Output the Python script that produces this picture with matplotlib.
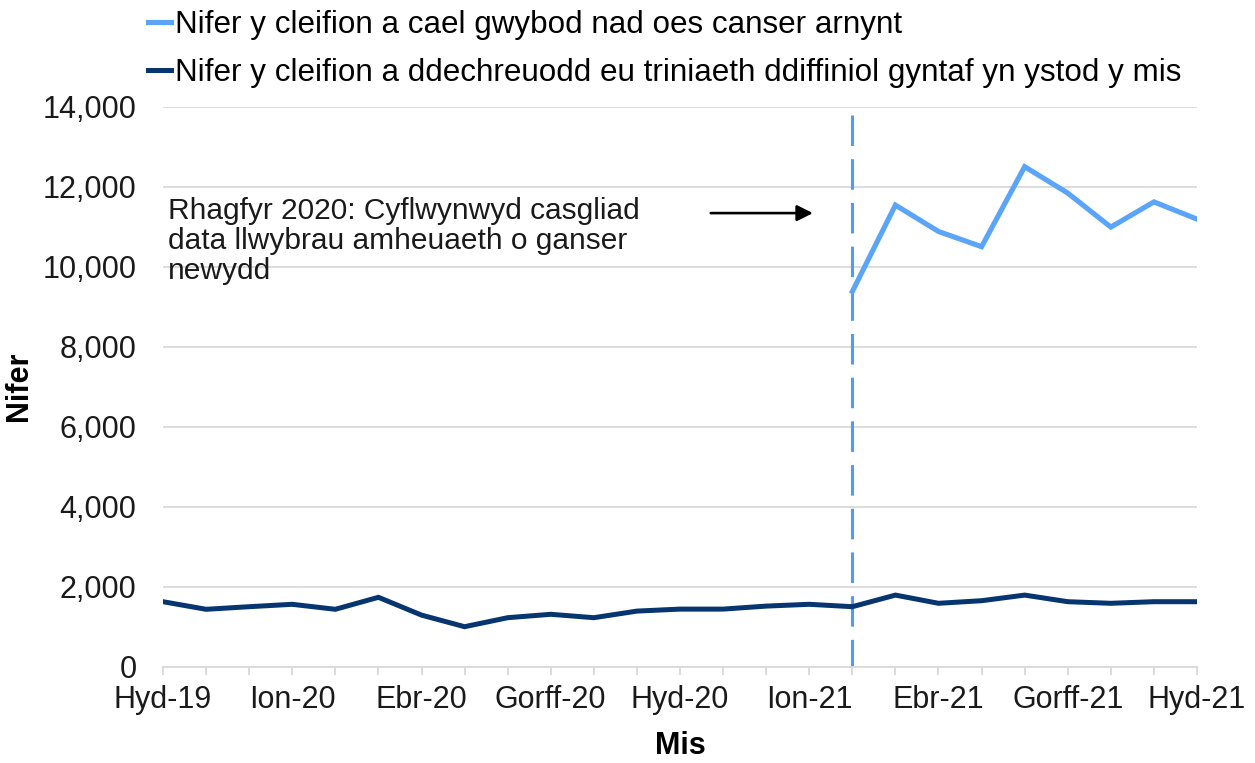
import numpy as np
import matplotlib
matplotlib.use("Agg")
import matplotlib.pyplot as plt

plt.rcParams['font.family'] = ['Liberation Sans', 'DejaVu Sans']

# --- Data ---
months = ['Hyd-19', 'Tach-19', 'Rhag-19', 'Ion-20', 'Chwef-20', 'Maw-20', 'Ebr-20',
          'Mai-20', 'Meh-20', 'Gorff-20', 'Awst-20', 'Medi-20', 'Hyd-20', 'Tach-20',
          'Rhag-20', 'Ion-21', 'Chwef-21', 'Maw-21', 'Ebr-21', 'Mai-21', 'Meh-21',
          'Gorff-21', 'Awst-21', 'Medi-21', 'Hyd-21']

# patients told they do not have cancer (only collected from the later months)
told_no_cancer = [np.nan] * 16 + [9380, 11540, 10880, 10500, 12500, 11840, 10990, 11620, 11190]

# patients starting first definitive treatment
started_treatment = [1625, 1435, 1500, 1560, 1435, 1735, 1290, 1000, 1225, 1310, 1225, 1390,
                     1440, 1440, 1515, 1560, 1500, 1790, 1585, 1650, 1790, 1625, 1585, 1625, 1625]

label_light = 'Nifer y cleifion a cael gwybod nad oes canser arnynt'
label_dark = 'Nifer y cleifion a ddechreuodd eu triniaeth ddiffiniol gyntaf yn ystod y mis'
note_text = 'Rhagfyr 2020: Cyflwynwyd casgliad\ndata llwybrau amheuaeth o ganser\nnewydd'

change_idx = 16        # month where new data collection shows up
change_top = 13790     # dashed line stops just under the top gridline

LIGHT = '#5aa4fa'
DARK = '#063570'
GRID = '#d9d9d9'
FS = 22

fig = plt.figure(figsize=(12.55, 7.63), dpi=100)
ax = fig.add_axes([163 / 1255, 1 - 666.7 / 763, (1197 - 163) / 1255, 560 / 763])

x = np.arange(len(months))
ax.plot(x, told_no_cancer, color=LIGHT, linewidth=3.7, label=label_light,
        solid_joinstyle='miter', zorder=3)
ax.plot(x, started_treatment, color=DARK, linewidth=3.6, label=label_dark,
        solid_joinstyle='miter', zorder=3)

# dashed marker line for the change in data collection
ax.plot([change_idx, change_idx], [change_top, 0], color='#4f9cf6', linewidth=2.2,
        dashes=(10, 4.3), zorder=2)

# note and arrow
ax.text(0.12, 11750, note_text, fontsize=FS - 0.5, va='top', ha='left',
        linespacing=1.1, color='#1a1a1a')
ax.annotate('', xy=(15.15, 11340), xytext=(12.65, 11340),
            arrowprops=dict(arrowstyle='-|>', color='black', lw=1.9, mutation_scale=24))

# axes styling
ax.set_xlim(0, len(months) - 1)
ax.set_ylim(0, 14000)
ax.set_yticks(np.arange(0, 14001, 2000))
ax.set_yticklabels([f'{v:,}' for v in range(0, 14001, 2000)])
ax.set_xticks(x)
ax.set_xticklabels([m if i % 3 == 0 else '' for i, m in enumerate(months)])

ax.grid(axis='y', color=GRID, linewidth=1.3)
ax.set_axisbelow(True)
for s in ['top', 'right', 'left']:
    ax.spines[s].set_visible(False)
ax.spines['bottom'].set_color(GRID)
ax.spines['bottom'].set_linewidth(1.3)

ax.tick_params(axis='y', length=0, pad=19, labelsize=FS, labelcolor='#1a1a1a')
ax.tick_params(axis='x', length=6, width=1.3, color=GRID, pad=7, labelsize=FS,
               labelcolor='#1a1a1a')

ax.set_xlabel('Mis', fontsize=FS, fontweight='bold', labelpad=12)
ax.set_ylabel('Nifer', fontsize=FS, fontweight='bold', labelpad=6)

fig.legend(loc='upper left', bbox_to_anchor=(148 / 1255, 1 - 10 / 763), frameon=False,
           fontsize=FS + 0.6, handlelength=0.72, handletextpad=0.15, borderpad=0,
           labelspacing=0.58, borderaxespad=0)

fig.savefig('out.png', dpi=100)
